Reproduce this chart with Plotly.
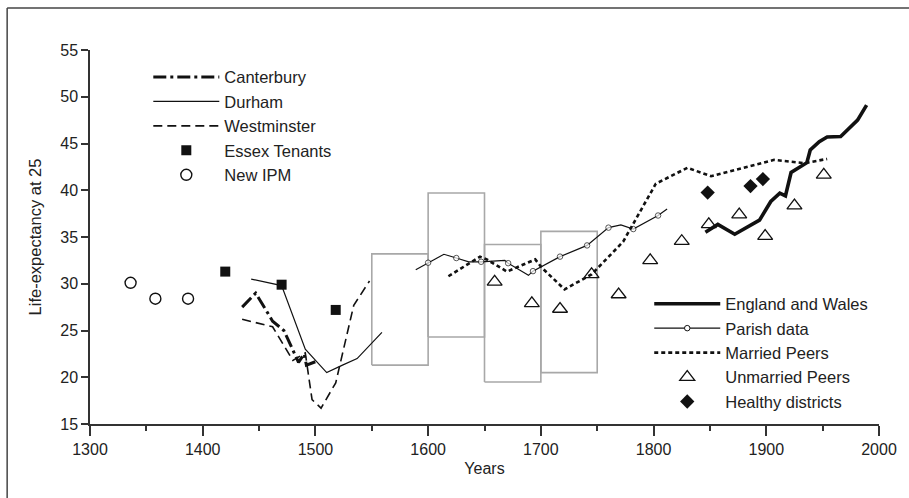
import plotly.graph_objects as go

# ---- data: life expectancy at age 25 ----
ipm_years = [1336, 1358, 1387]
ipm_e25 = [30.1, 28.4, 28.4]

essex_years = [1420, 1470, 1518]
essex_e25 = [31.3, 29.9, 27.2]

cant_years = [1435, 1447, 1462, 1472, 1485, 1490, 1492, 1503]
cant_e25 = [27.5, 29.0, 26.0, 25.0, 21.6, 22.5, 21.3, 21.8]

durham_years = [1443, 1470, 1491, 1510, 1524, 1537, 1559]
durham_e25 = [30.5, 29.8, 23.0, 20.5, 21.3, 22.0, 24.8]

west_years = [1435, 1462, 1480, 1491, 1497, 1505, 1518, 1534, 1548]
west_e25 = [26.2, 25.4, 21.8, 22.6, 17.6, 16.7, 19.4, 27.7, 30.3]

# ranges for fifty-year periods
box_start = [1550, 1600, 1650, 1700]
box_end = [1600, 1650, 1700, 1750]
box_low = [21.3, 24.3, 19.5, 20.5]
box_high = [33.2, 39.7, 34.2, 35.6]

parish_years = [1589, 1600, 1614, 1625, 1636, 1647, 1668, 1671, 1689, 1693,
                1717, 1741, 1760, 1771, 1782, 1804, 1812]
parish_e25 = [31.5, 32.25, 33.15, 32.75, 32.35, 32.35, 32.5, 32.2, 30.9, 31.35,
              32.9, 34.1, 36.0, 36.3, 35.85, 37.3, 38.0]
parish_marked = [0, 1, 0, 1, 0, 1, 0, 1, 0, 1, 1, 1, 1, 0, 1, 1, 0]

married_years = [1618, 1646, 1652, 1670, 1695, 1701, 1721, 1745, 1773, 1802,
                 1830, 1851, 1907, 1934, 1954]
married_e25 = [30.8, 32.9, 32.6, 31.3, 32.6, 31.7, 29.4, 31.0, 34.5, 40.7,
               42.4, 41.5, 43.25, 42.9, 43.35]

ew_years = [1846, 1857, 1872, 1894, 1904, 1912, 1917, 1922, 1936, 1939,
            1947, 1954, 1966, 1981, 1989]
ew_e25 = [35.5, 36.35, 35.3, 36.8, 38.8, 39.7, 39.4, 41.9, 42.95, 44.3,
          45.2, 45.7, 45.75, 47.5, 49.1]

unmarried_years = [1659, 1692, 1717, 1745, 1769, 1797, 1825, 1849, 1876, 1899, 1925, 1951]
unmarried_e25 = [30.2, 27.9, 27.3, 31.0, 28.85, 32.5, 34.55, 36.35, 37.4, 35.1, 38.35, 41.65]

healthy_years = [1848, 1886, 1897]
healthy_e25 = [39.75, 40.45, 41.2]

INK = "#111111"
FONT = "Liberation Sans, Arial, sans-serif"

fig = go.Figure()

# gray period boxes
bx, by = [], []
for s, e, lo, hi in zip(box_start, box_end, box_low, box_high):
    bx += [s, e, e, s, s, None]
    by += [lo, lo, hi, hi, lo, None]
fig.add_trace(go.Scatter(x=bx, y=by, mode="lines", showlegend=False,
                         line=dict(color="#a8a8a8", width=1.6), hoverinfo="skip"))

# first legend group
fig.add_trace(go.Scatter(x=cant_years, y=cant_e25, mode="lines", name="Canterbury",
                         line=dict(color=INK, width=3, dash="13px,4px,3px,4px"),
                         legend="legend"))
fig.add_trace(go.Scatter(x=durham_years, y=durham_e25, mode="lines", name="Durham",
                         line=dict(color=INK, width=1.2), legend="legend"))
fig.add_trace(go.Scatter(x=west_years, y=west_e25, mode="lines", name="Westminster",
                         line=dict(color=INK, width=1.6, dash="9px,5px"), legend="legend"))
fig.add_trace(go.Scatter(x=essex_years, y=essex_e25, mode="markers", name="Essex Tenants",
                         marker=dict(symbol="square", size=10, color=INK), legend="legend"))
fig.add_trace(go.Scatter(x=ipm_years, y=ipm_e25, mode="markers", name="New IPM",
                         marker=dict(symbol="circle-open", size=11, color=INK,
                                     line=dict(width=1.4)), legend="legend"))

# second legend group
fig.add_trace(go.Scatter(x=ew_years, y=ew_e25, mode="lines", name="England and Wales",
                         line=dict(color=INK, width=3.6), legend="legend2"))
fig.add_trace(go.Scatter(x=parish_years, y=parish_e25, mode="lines+markers",
                         showlegend=False, legend="legend2",
                         line=dict(color=INK, width=1.2),
                         marker=dict(symbol="circle", color="white",
                                     size=[5.5 if m else 0 for m in parish_marked],
                                     line=dict(color=INK, width=1))))
fig.add_trace(go.Scatter(x=[None], y=[None], mode="lines+markers", name="Parish data",
                         legend="legend2", line=dict(color=INK, width=1.2),
                         marker=dict(symbol="circle", color="white", size=5.5,
                                     line=dict(color=INK, width=1))))
fig.add_trace(go.Scatter(x=married_years, y=married_e25, mode="lines", name="Married Peers",
                         line=dict(color=INK, width=2.6, dash="4px,3px"), legend="legend2"))
fig.add_trace(go.Scatter(x=unmarried_years, y=unmarried_e25, mode="markers",
                         name="Unmarried Peers", legend="legend2",
                         marker=dict(symbol="triangle-up-open", size=13, color=INK,
                                     line=dict(width=1.3))))
fig.add_trace(go.Scatter(x=healthy_years, y=healthy_e25, mode="markers",
                         name="Healthy districts", legend="legend2",
                         marker=dict(symbol="diamond", size=11, color=INK)))

axis_common = dict(showline=True, linecolor="#333333", linewidth=1.5,
                   ticks="outside", tickcolor="#333333", tickwidth=1.5,
                   showgrid=False, zeroline=False,
                   tickfont=dict(family=FONT, size=16, color="#222222"))

legend_font = dict(family=FONT, size=16.5, color="#222222")

# frame around the figure: only its top and left edges fall inside the page
frame_line = dict(color="#444444", width=1.5)

fig.update_layout(
    width=909, height=498,
    margin=dict(l=90, r=27, t=50, b=74, pad=0),
    paper_bgcolor="white", plot_bgcolor="white",
    font=dict(family=FONT, color="#222222"),
    xaxis=dict(range=[1300, 2000], tick0=1300, dtick=100, ticklen=10,
               minor=dict(dtick=50, ticks="outside", ticklen=5, tickwidth=1.5,
                          tickcolor="#333333"),
               title=dict(text="Years", font=dict(family=FONT, size=16), standoff=6),
               **axis_common),
    yaxis=dict(range=[15, 55], tick0=15, dtick=5, ticklen=7,
               title=dict(text="Life-expectancy at 25", font=dict(family=FONT, size=16.5),
                          standoff=14),
               **axis_common),
    legend=dict(x=0.0739, y=0.9738, xanchor="left", yanchor="top",
                bgcolor="rgba(0,0,0,0)", itemwidth=66, traceorder="normal",
                font=legend_font),
    legend2=dict(x=0.7088, y=0.3677, xanchor="left", yanchor="top",
                 bgcolor="rgba(0,0,0,0)", itemwidth=66, traceorder="normal",
                 font=legend_font),
    shapes=[
        dict(type="line", xref="paper", yref="paper",
             x0=-0.105, x1=1.6, y0=1.112, y1=1.112, line=frame_line, layer="below"),
        dict(type="line", xref="paper", yref="paper",
             x0=-0.105, x1=-0.105, y0=-1.0, y1=1.112, line=frame_line, layer="below"),
    ],
    showlegend=True,
)

fig.write_html("out.html")
